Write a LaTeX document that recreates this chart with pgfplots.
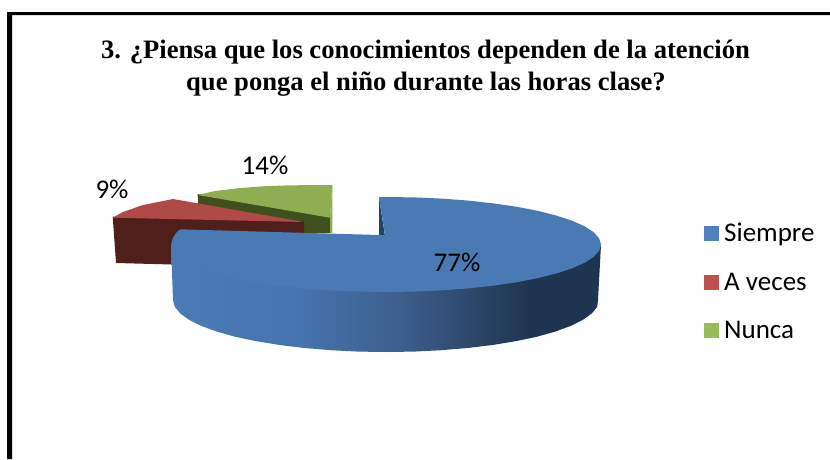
\documentclass[border=0pt]{standalone}
\usepackage{pgfplots}
\pgfplotsset{compat=1.18}
\usepackage{fontspec}
\setmainfont{Carlito}
\newfontfamily\titlefont{Liberation Serif}
\definecolor{bTop}{HTML}{4A7AB4}
\definecolor{bA}{HTML}{4A7BB5}
\definecolor{bB}{HTML}{4674AE}
\definecolor{bC}{HTML}{3D5F8D}
\definecolor{bD}{HTML}{1F3450}
\definecolor{bIn}{HTML}{234468}
\definecolor{rTop}{HTML}{B04A48}
\definecolor{rWall}{HTML}{4F1F1C}
\definecolor{gTop}{HTML}{8FAE52}
\definecolor{gWall}{HTML}{3F4F1E}
\definecolor{lgB}{HTML}{4F81BD}
\definecolor{lgR}{HTML}{C0504D}
\definecolor{lgG}{HTML}{9BBB59}
\pgfdeclarehorizontalshading{blueside}{100bp}{color(0bp)=(bA); color(25bp)=(bA); color(40bp)=(bB); color(51.5bp)=(bC); color(66.75bp)=(bD); color(75bp)=(bD); color(100bp)=(bD)}
\begin{document}
\begin{tikzpicture}
\path[use as bounding box] (0,0) rectangle (830pt,459pt);
\begin{axis}[
  at={(0,0)}, anchor=south west,
  scale only axis, width=830pt, height=459pt,
  xmin=0, xmax=830, ymin=0, ymax=459, y dir=reverse,
  hide axis, clip=false,
  legend style={at={(axis cs:704,223)}, anchor=north west, draw=none, fill=none,
    font=\fontsize{27}{30}\selectfont, row sep=29.5pt, inner sep=0pt,
    nodes={inner sep=0pt, anchor=west}},
  legend cell align=left,
  legend image code/.code={\path[draw=none,fill=none] (0pt,0pt) rectangle (20pt,0pt);\fill[draw=none,#1] (0pt,-7.5pt) rectangle (15pt,7.5pt);},
]
% frame
\addplot[fill=black, draw=none, forget plot] coordinates {(7,12) (830,12) (830,15) (12,15) (12,459) (7,459)} -- cycle;

% green slice
\addplot[fill=gWall, draw=none, forget plot] coordinates {(197.7,194) (330,216.7) (330,233) (304,233) (198,210)} -- cycle;
\addplot[fill=gTop, draw=none, forget plot] coordinates {(197.7,195) (215,191) (240,188) (265,186.2) (290,185.3) (332.3,185) (330,217.7)} -- cycle;
\addplot[fill=gTop, draw=none, forget plot] coordinates {(332.3,185) (330,217.7) (330,233) (332.3,233)} -- cycle;

% red slice
\addplot[fill=rWall, draw=none, forget plot] coordinates {(112.7,216.7) (304,221) (304,240) (172,264.5) (116,263)} -- cycle;
\addplot[fill=rTop, draw=none, forget plot] coordinates {(112.7,217.7) (123,212) (143,205) (173,199) (304,222)} -- cycle;

% blue slice: side wall
\addplot[shading=blueside, draw=none, forget plot] coordinates {
 (601,244.5) (599.2,248.7) (593.7,254.8) (584.7,260.7) (572.2,266.25) (556.5,271.4) (538,276.1) (516.9,280.2) (493.5,283.6) (468.3,286.4) (441.7,288.4) (414.2,289.6) (386,290) (357.8,289.6) (330.3,288.4) (303.7,286.4) (278.5,283.6) (255.1,280.2) (234,276.1) (215.5,271.4) (199.8,266.25) (187.3,260.7) (178.3,254.8) (172.8,248.7) (171,244.5)
 (173,300) (174.8,306.8) (180.3,313.5) (189.2,319.9) (201.5,326) (217.1,331.7) (235.4,336.8) (256.3,341.2) (279.5,345) (304.4,348) (330.8,350.2) (358.1,351.6) (386,352) (413.9,351.6) (441.2,350.2) (467.6,348) (492.5,345) (515.7,341.2) (536.6,336.8) (554.9,331.7) (570.5,326) (582.8,319.9) (591.7,313.5) (597.2,306.8) (598,300)} -- cycle;
% blue slice: inner wall
\addplot[fill=bIn, draw=none, forget plot] coordinates {(379,197) (385,236) (379,236)} -- cycle;
% blue slice: top
\addplot[fill=bTop, draw=none, forget plot] coordinates {
 (379,197) (386,197) (414.2,197.4) (441.7,198.6) (468.3,200.6) (493.5,203.4) (516.9,206.8) (538,210.9) (556.5,215.6) (572.2,220.75) (584.7,226.3) (593.7,232.2) (599.2,238.3) (601,244.5)
 (599.2,250.7) (593.7,256.8) (584.7,262.7) (572.2,268.25) (556.5,273.4) (538,278.1) (516.9,282.2) (493.5,285.6) (468.3,288.4) (441.7,290.4) (414.2,291.6) (386,292) (357.8,291.6) (330.3,290.4) (303.7,288.4) (278.5,285.6) (255.1,282.2) (234,278.1) (215.5,273.4) (199.8,268.25) (187.3,262.7) (178.3,256.8) (172.8,250.7) (171,244.5) (172.8,238.3) (176,233) (180,229.3)
 (379,235) (385,235)} -- cycle;

% legend
\addlegendimage{fill=lgB}\addlegendentry{Siempre}
\addlegendimage{fill=lgR}\addlegendentry{A veces}
\addlegendimage{fill=lgG}\addlegendentry{Nunca}

% title
\node[font=\titlefont\bfseries\fontsize{26.6}{30}\selectfont, anchor=base] at (axis cs:425.5,58) {3. ¿Piensa que los conocimientos dependen de la atención};
\node[font=\titlefont\bfseries\fontsize{26.6}{30}\selectfont, anchor=base] at (axis cs:426,90) {que ponga el niño durante las horas clase?};
% data labels
\node[font=\fontsize{27}{30}\selectfont, anchor=base] at (axis cs:265,174) {14\%};
\node[font=\fontsize{27}{30}\selectfont, anchor=base] at (axis cs:112,198) {9\%};
\node[font=\fontsize{27}{30}\selectfont, anchor=base] at (axis cs:457,271.5) {77\%};
\end{axis}
\end{tikzpicture}
\end{document}
